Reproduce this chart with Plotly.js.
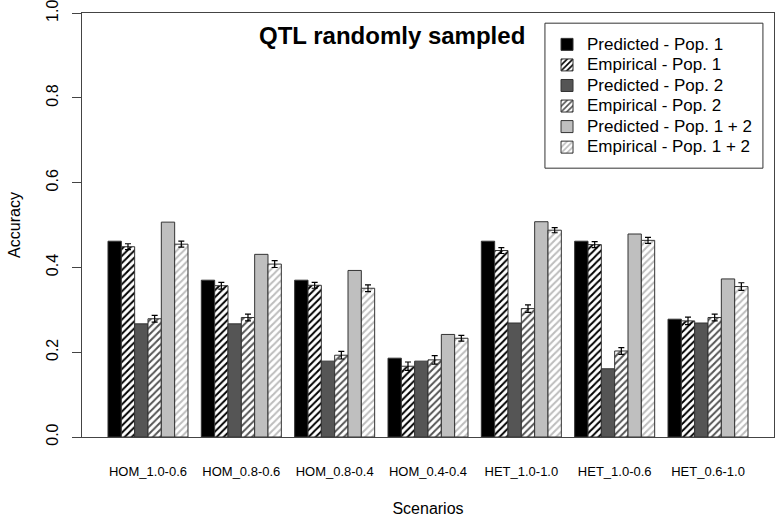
<!DOCTYPE html>
<html>
<head>
<meta charset="utf-8">
<script src="https://cdn.plot.ly/plotly-3.0.1.min.js"></script>
<style>html,body{margin:0;padding:0;background:#fff;}#chart{width:777px;height:519px;}</style>
</head>
<body>
<div id="chart"></div>
<script>
const scenarios = ["HOM_1.0-0.6","HOM_0.8-0.6","HOM_0.8-0.4","HOM_0.4-0.4","HET_1.0-1.0","HET_1.0-0.6","HET_0.6-1.0"];
const predPop1   = [0.462,0.370,0.370,0.186,0.462,0.462,0.278];
const empPop1    = [0.449,0.357,0.358,0.167,0.440,0.454,0.274];
const empPop1Err = [0.007,0.008,0.007,0.010,0.007,0.007,0.009];
const predPop2   = [0.267,0.267,0.179,0.179,0.269,0.161,0.269];
const empPop2    = [0.279,0.282,0.193,0.182,0.303,0.203,0.282];
const empPop2Err = [0.008,0.008,0.009,0.010,0.009,0.008,0.008];
const predPop12  = [0.507,0.431,0.393,0.242,0.508,0.479,0.373];
const empPop12   = [0.455,0.408,0.351,0.233,0.488,0.464,0.355];
const empPop12Err= [0.007,0.008,0.008,0.007,0.006,0.007,0.009];
const seriesNames = ["Predicted - Pop. 1","Empirical - Pop. 1","Predicted - Pop. 2","Empirical - Pop. 2","Predicted - Pop. 1 + 2","Empirical - Pop. 1 + 2"];
const yTicks = [0,0.2,0.4,0.6,0.8,1.0];
const yTickText = ["0.0","0.2","0.4","0.6","0.8","1.0"];

const FONT = "Liberation Sans, Arial, sans-serif";
const outline = {color:"#333333", width:1};
const lg = n => '<span style="font-size:17px">' + n + '</span>';

function solid(name, y, color){
  return {type:"bar", name:lg(name), x:scenarios, y:y,
    marker:{color:color, line:outline}};
}
function hatched(name, y, err, color){
  return {type:"bar", name:lg(name), x:scenarios, y:y,
    marker:{color:"white", line:outline,
      pattern:{shape:"/", fgcolor:color, bgcolor:"white", size:5, solidity:0.4}},
    error_y:{type:"data", array:err, visible:true, color:"#000", thickness:1.2, width:3}};
}

const data = [
  solid(seriesNames[0], predPop1, "#000000"),
  hatched(seriesNames[1], empPop1, empPop1Err, "#000000"),
  solid(seriesNames[2], predPop2, "#555555"),
  hatched(seriesNames[3], empPop2, empPop2Err, "#555555"),
  solid(seriesNames[4], predPop12, "#bfbfbf"),
  hatched(seriesNames[5], empPop12, empPop12Err, "#bdbdbd")
];

const layout = {
  width:777, height:519,
  margin:{l:82, r:3, t:13, b:82},
  paper_bgcolor:"white", plot_bgcolor:"white",
  font:{family:FONT, size:16, color:"#000"},
  barmode:"group", bargap:1/7, bargroupgap:0,
  showlegend:true,
  legend:{x:0.672, xanchor:"left", y:0.962, yanchor:"top",
    bgcolor:"rgba(0,0,0,0)", borderwidth:0, font:{family:FONT, size:13.5, color:"#000"},
    itemclick:false},
  xaxis:{type:"category", range:[-0.707, 6.707], showline:true, mirror:true,
    linecolor:"#444", linewidth:1, ticks:"", showgrid:false, zeroline:false,
    tickfont:{family:FONT, size:13, color:"#000"}, ticklabelstandoff:22,
    title:{text:"Scenarios", font:{family:FONT, size:16, color:"#000"}, standoff:25}},
  yaxis:{range:[0,1.0005], tickvals:yTicks, ticktext:yTickText,
    showline:true, mirror:true, linecolor:"#444", linewidth:1,
    ticks:"outside", ticklen:9, tickcolor:"#444", tickangle:-90,
    showgrid:false, zeroline:false, ticklabelstandoff:8, ticklabeloverflow:"allow",
    tickfont:{family:FONT, size:16, color:"#000"},
    title:{text:"Accuracy", font:{family:FONT, size:16, color:"#000"}, standoff:18}},
  shapes:[{type:"rect", xref:"paper", yref:"paper", x0:0.669, x1:0.984, y0:0.634, y1:0.976,
    line:{color:"#333", width:1}, fillcolor:"rgba(0,0,0,0)"}],
  annotations:[{text:"<b>QTL randomly sampled</b>", xref:"paper", yref:"paper",
    x:0.448, y:0.946, xanchor:"center", yanchor:"middle", showarrow:false,
    font:{family:FONT, size:24, color:"#000"}}]
};

Plotly.newPlot("chart", data, layout, {staticPlot:true, displayModeBar:false});
</script>
</body>
</html>
